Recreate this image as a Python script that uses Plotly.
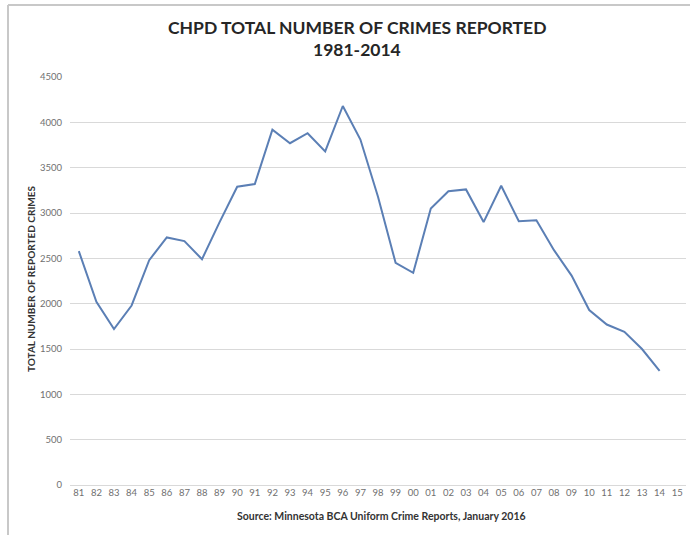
import plotly.graph_objects as go

# Two-digit year labels along the category axis (1981 through 2015)
years = ["81", "82", "83", "84", "85", "86", "87", "88", "89", "90",
         "91", "92", "93", "94", "95", "96", "97", "98", "99", "00",
         "01", "02", "03", "04", "05", "06", "07", "08", "09", "10",
         "11", "12", "13", "14", "15"]

# Total crimes reported per year (no figure yet for 2015)
crimes = [2580, 2020, 1720, 1980, 2480, 2730, 2690, 2490, 2900, 3290,
          3320, 3920, 3770, 3880, 3680, 4180, 3810, 3180, 2450, 2340,
          3050, 3240, 3260, 2900, 3300, 2910, 2920, 2590, 2310, 1930,
          1770, 1690, 1500, 1260, None]

y_ticks = [0, 500, 1000, 1500, 2000, 2500, 3000, 3500, 4000, 4500]

W, H = 690, 535
ML, MR, MT, MB = 70, 4, 77, 50

fig = go.Figure()
fig.add_trace(go.Scatter(
    x=years, y=crimes, mode="lines",
    line=dict(color="#5b7fb5", width=2),
    connectgaps=False, showlegend=False, hoverinfo="x+y",
))

fig.update_layout(
    width=W, height=H,
    margin=dict(l=ML, r=MR, t=MT, b=MB),
    paper_bgcolor="white", plot_bgcolor="white",
    font=dict(family="Lato, Open Sans, sans-serif", color="#595959"),
    xaxis=dict(
        type="category", range=[-0.5, len(years) - 0.5],
        showgrid=False, zeroline=False, showline=False,
        ticks="", tickfont=dict(size=9.5, color="#707070"),
        tickangle=0,
    ),
    yaxis=dict(
        range=[0, 4500], tickvals=y_ticks,
        showgrid=True, gridcolor="#d9d9d9", gridwidth=1,
        zeroline=True, zerolinecolor="#d9d9d9", zerolinewidth=1,
        showline=False, ticks="", ticklen=0,
        tickfont=dict(size=9.5, color="#707070"),
        ticklabelstandoff=7,
    ),
)

px_w = W - ML - MR
px_h = H - MT - MB


def px(x):
    return (x - ML) / px_w


def py(y):
    return (H - MB - y) / px_h


annotations = [
    dict(text="<b>CHPD TOTAL NUMBER OF CRIMES REPORTED</b>",
         x=px(357), y=py(28), font=dict(size=17.5, color="#262626")),
    dict(text="<b>1981-2014</b>",
         x=px(357), y=py(49), font=dict(size=17.5, color="#262626")),
    dict(text="<b>TOTAL NUMBER OF REPORTED CRIMES</b>", textangle=-90,
         x=px(31), y=py(279), font=dict(size=10, color="#333333")),
    dict(text="<b>Source: Minnesota BCA Uniform Crime Reports, January 2016</b>",
         x=px(381), y=py(516), font=dict(size=10.5, color="#333333")),
]
for a in annotations:
    a.update(xref="paper", yref="paper", showarrow=False,
             xanchor="center", yanchor="middle")
fig.update_layout(annotations=annotations)

# Outer frame of the chart area (top and left edges)
frame = dict(type="line", xref="paper", yref="paper",
             line=dict(color="#c8c8c8", width=2), layer="above")
fig.update_layout(shapes=[
    dict(frame, x0=px(8), x1=px(W + 5), y0=py(5), y1=py(5)),
    dict(frame, x0=px(8), x1=px(8), y0=py(5), y1=py(H + 5)),
])

fig.write_html("out.html")
